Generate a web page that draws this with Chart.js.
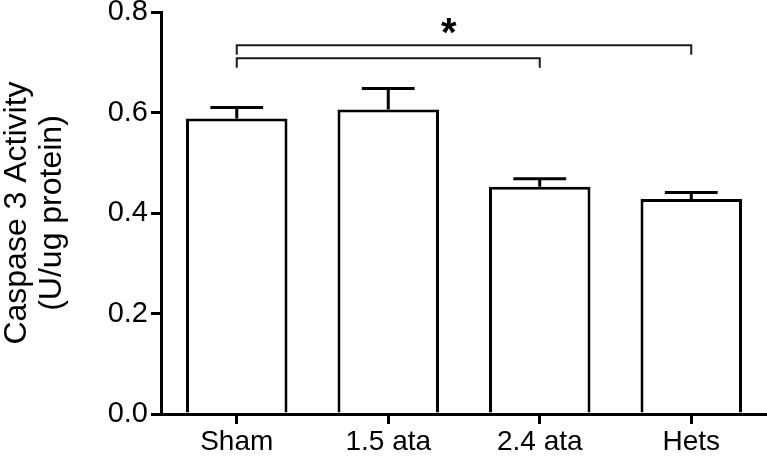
<!DOCTYPE html>
<html>
<head>
<meta charset="utf-8">
<script src="https://cdn.jsdelivr.net/npm/chart.js@4.4.1/dist/chart.umd.min.js"></script>
<style>
  html, body { margin: 0; padding: 0; background: #ffffff; }
  #wrap { width: 767px; height: 461px; }
</style>
</head>
<body>
<div id="wrap"><canvas id="caspase-chart" width="767" height="461"></canvas></div>
<script>
// Chart data
const groups = ['Sham', '1.5 ata', '2.4 ata', 'Hets'];
const caspaseMeans = [0.588, 0.606, 0.452, 0.428];
const caspaseSem = [0.022, 0.042, 0.016, 0.013];
const yTickValues = [0.0, 0.2, 0.4, 0.6, 0.8];

// significance brackets: start group, end group, level (y units)
const bracketFrom = [0, 0];
const bracketTo = [3, 2];
const bracketLevel = [0.734, 0.708];
const starLabel = '*';
const starLevel = 0.771;

/**
 * Draws SEM error bars (upper only) and the significance brackets
 */
const annotationsPlugin = {
  id: 'annotations',
  afterDatasetsDraw(chart) {
    const ctx = chart.ctx;
    const yScale = chart.scales.y;
    const meta = chart.getDatasetMeta(0);

    ctx.save();
    ctx.strokeStyle = '#000000';
    ctx.lineWidth = 3;
    ctx.lineCap = 'butt';

    meta.data.forEach((bar, i) => {
      const yMean = yScale.getPixelForValue(caspaseMeans[i]);
      const yTop = yScale.getPixelForValue(caspaseMeans[i] + caspaseSem[i]);
      const half = bar.width * 0.26;
      ctx.beginPath();
      ctx.moveTo(bar.x, yMean);
      ctx.lineTo(bar.x, yTop);
      ctx.moveTo(bar.x - half, yTop);
      ctx.lineTo(bar.x + half, yTop);
      ctx.stroke();
    });

    // brackets
    ctx.strokeStyle = '#1a1a1a';
    ctx.lineWidth = 2;
    const drop = yScale.getPixelForValue(0) - yScale.getPixelForValue(0.019);
    bracketLevel.forEach((level, i) => {
      const x1 = meta.data[bracketFrom[i]].x;
      const x2 = meta.data[bracketTo[i]].x;
      const y = yScale.getPixelForValue(level);
      ctx.beginPath();
      ctx.moveTo(x1, y + drop);
      ctx.lineTo(x1, y);
      ctx.lineTo(x2, y);
      ctx.lineTo(x2, y + drop);
      ctx.stroke();
    });

    // asterisk
    const xa = meta.data[1].x + 0.4 * (meta.data[2].x - meta.data[1].x);
    ctx.fillStyle = '#000000';
    ctx.font = 'bold 40px "Liberation Sans", Arial, sans-serif';
    ctx.textAlign = 'center';
    ctx.textBaseline = 'middle';
    ctx.fillText(starLabel, xa, yScale.getPixelForValue(starLevel) + 8);
    ctx.restore();
  }
};

const canvas = document.getElementById('caspase-chart');

new Chart(canvas, {
  type: 'bar',
  data: {
    labels: groups,
    datasets: [{
      label: 'Caspase 3 Activity',
      data: caspaseMeans,
      backgroundColor: '#ffffff',
      borderColor: '#000000',
      borderWidth: 3,
      barPercentage: 0.67,
      categoryPercentage: 1.0
    }]
  },
  options: {
    responsive: false,
    animation: false,
    layout: {
      padding: { top: 12, left: 0, right: 0, bottom: 0 }
    },
    plugins: {
      legend: { display: false },
      tooltip: { enabled: false }
    },
    scales: {
      x: {
        offset: true,
        afterFit(scale) {
          scale.height = 47;
          scale.paddingLeft = 0;
          scale.paddingRight = 0;
        },
        border: { display: true, color: '#000000', width: 3 },
        grid: {
          offset: false,
          drawOnChartArea: false,
          drawTicks: true,
          tickLength: 10,
          color: '#000000',
          lineWidth: 3
        },
        ticks: {
          color: '#000000',
          padding: 1,
          maxRotation: 0,
          font: { family: '"Liberation Sans", Arial, sans-serif', size: 28 }
        }
      },
      y: {
        min: 0,
        max: 0.8,
        afterFit(scale) {
          scale.width = 161;
          scale.paddingTop = 0;
          scale.paddingBottom = 0;
        },
        afterBuildTicks(scale) {
          scale.ticks = yTickValues.map(v => ({ value: v }));
        },
        border: { display: true, color: '#000000', width: 3 },
        grid: {
          drawOnChartArea: false,
          drawTicks: true,
          tickLength: 10,
          color: '#000000',
          lineWidth: 3
        },
        ticks: {
          color: '#000000',
          padding: 3,
          font: { family: '"Liberation Sans", Arial, sans-serif', size: 29 },
          callback: function(value) {
            return Number(value).toFixed(1);
          }
        },
        title: {
          display: true,
          text: ['Caspase 3 Activity', '(U/ug protein)'],
          color: '#000000',
          padding: 0,
          font: { family: '"Liberation Sans", Arial, sans-serif', size: 32, lineHeight: 1.08 }
        }
      }
    }
  },
  plugins: [annotationsPlugin]
});
</script>
</body>
</html>
